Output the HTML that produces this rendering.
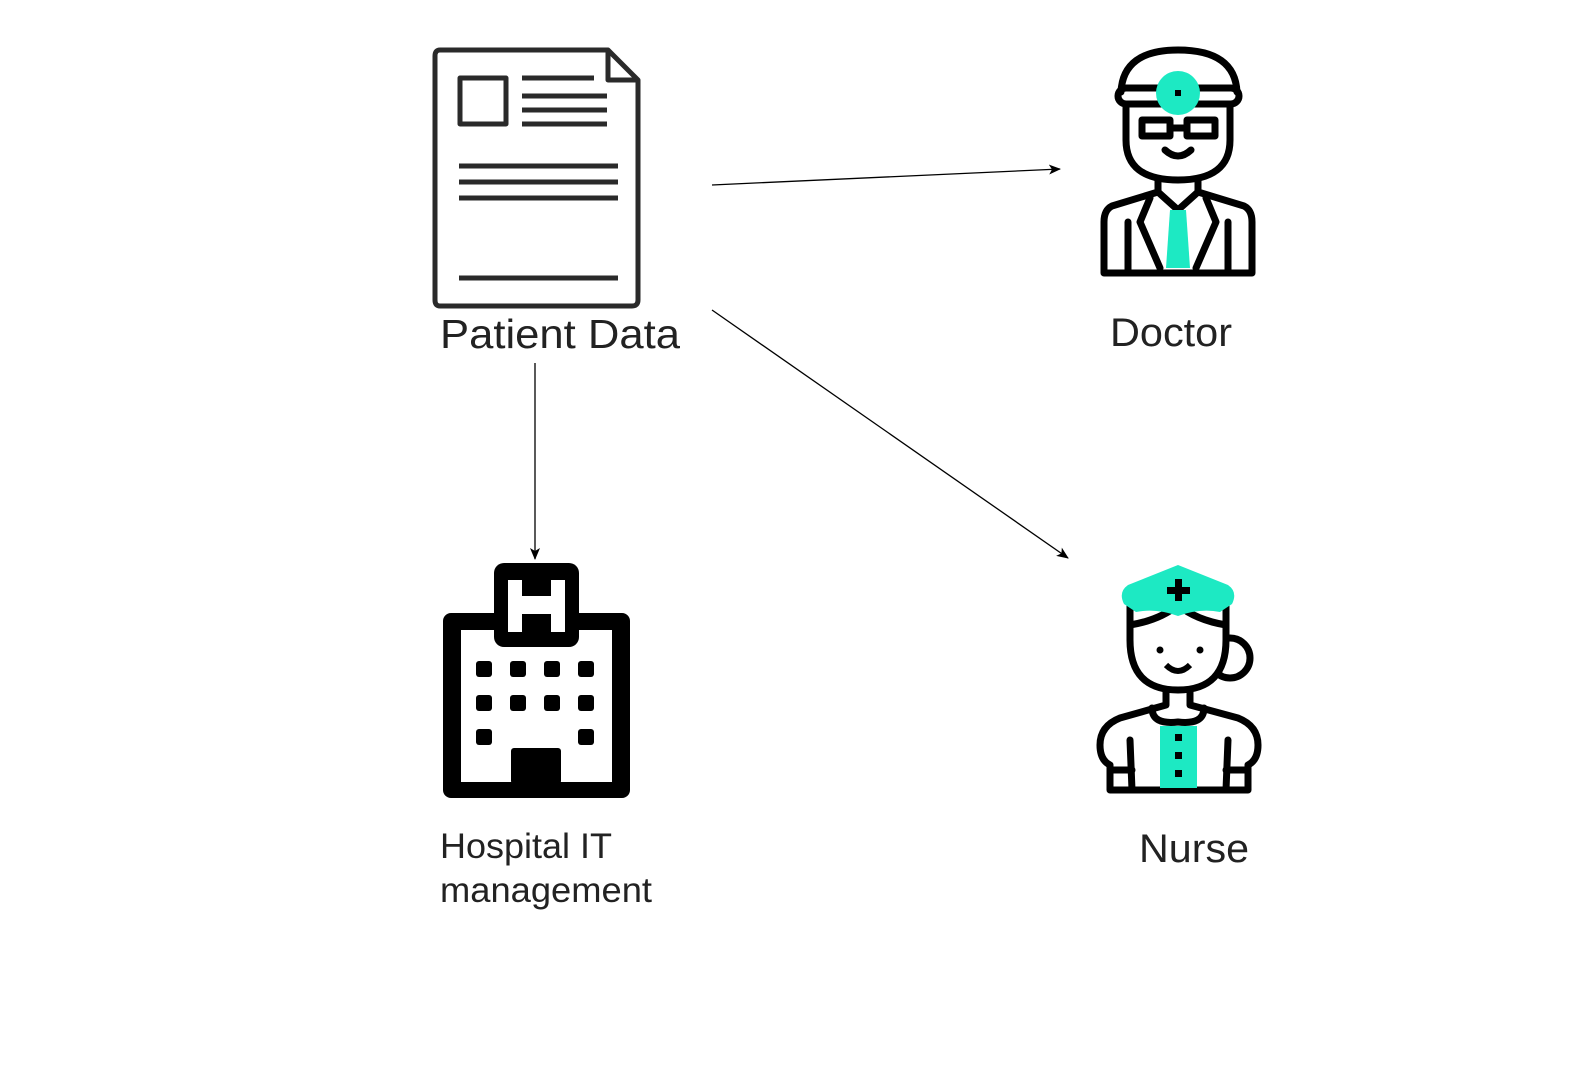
<!DOCTYPE html>
<html><head><style>
html,body{margin:0;padding:0;background:#fff;}
svg{display:block;}
text{font-family:"Liberation Sans",Arial,sans-serif;fill:#222;}
</style></head><body>
<svg width="1575" height="1088" viewBox="0 0 1575 1088" xmlns="http://www.w3.org/2000/svg">
<defs>
<marker id="ah" markerWidth="12" markerHeight="10" refX="11" refY="5" orient="auto" markerUnits="userSpaceOnUse">
<path d="M0,0 L12,5 L0,10 L3,5 Z" fill="#000"/>
</marker>
</defs>
<!-- Document -->
<g fill="none" stroke="#2a2a2a" stroke-width="5" stroke-linejoin="round">
<path d="M440,50 L608,50 L638,80 L638,300 Q638,306 632,306 L440,306 Q435,306 435,300 L435,56 Q435,50 440,50 Z"/>
<path d="M608,50 L608,80 L638,80"/>
<rect x="460" y="78" width="46" height="46"/>
<line x1="522" y1="78" x2="594" y2="78"/>
<line x1="522" y1="96" x2="607" y2="96"/>
<line x1="522" y1="110" x2="607" y2="110"/>
<line x1="522" y1="124" x2="607" y2="124"/>
<line x1="459" y1="166" x2="618" y2="166"/>
<line x1="459" y1="182" x2="618" y2="182"/>
<line x1="459" y1="198" x2="618" y2="198"/>
<line x1="459" y1="278" x2="618" y2="278"/>
</g>
<text x="440" y="348" font-size="41" textLength="240" lengthAdjust="spacingAndGlyphs">Patient Data</text>

<!-- Doctor -->
<g stroke="#000" stroke-width="7" fill="none" stroke-linejoin="round" stroke-linecap="round">
<path d="M1121,92 Q1123,50 1178,50 Q1235,50 1237,92"/>
<rect x="1118" y="88" width="121" height="16" rx="8"/>
<path d="M1126,104 L1126,140 Q1126,180 1178,180 Q1230,180 1230,140 L1230,104"/>
<rect x="1142" y="120" width="28" height="16"/>
<rect x="1187" y="120" width="28" height="16"/>
<line x1="1170" y1="128" x2="1187" y2="128"/>
<path d="M1165,150 Q1178,162 1191,150"/>
<path d="M1158,180 L1158,192 L1112,206 Q1104,210 1104,222 L1104,273 L1252,273 L1252,222 Q1252,210 1244,206 L1198,192 L1198,180"/>
<path d="M1158,192 L1178,210 L1198,192"/>
<path d="M1150,198 L1140,222 L1160,268"/>
<path d="M1206,198 L1216,222 L1196,268"/>
<line x1="1128" y1="222" x2="1128" y2="273"/>
<line x1="1228" y1="222" x2="1228" y2="273"/>
</g>
<circle cx="1178" cy="93" r="22" fill="#1de9c3"/>
<rect x="1175" y="90" width="6" height="6" fill="#000"/>
<path d="M1170,210 L1186,210 L1190,268 L1166,268 Z" fill="#1de9c3"/>
<text x="1110" y="346" font-size="40" textLength="122" lengthAdjust="spacingAndGlyphs">Doctor</text>

<!-- Nurse -->
<g stroke="#000" stroke-width="7" fill="none" stroke-linejoin="round" stroke-linecap="round">
<circle cx="1230" cy="658" r="20"/>
<path d="M1130,605 L1130,640 Q1130,690 1178,690 Q1226,690 1226,640 L1226,605" fill="#fff"/>
<path d="M1130,625 Q1160,620 1178,605 Q1196,620 1226,625"/>
<path d="M1166,690 L1166,705 L1120,718 Q1100,726 1100,745 Q1100,760 1110,765 L1110,790 L1248,790 L1248,765 Q1258,760 1258,745 Q1258,726 1238,718 L1190,705 L1190,690"/>
<path d="M1152,708 Q1152,725 1178,722 Q1204,725 1204,708"/>
<line x1="1110" y1="770" x2="1132" y2="770"/>
<line x1="1226" y1="770" x2="1248" y2="770"/>
<line x1="1130" y1="740" x2="1132" y2="790"/>
<line x1="1228" y1="740" x2="1226" y2="790"/>
</g>
<circle cx="1160" cy="650" r="3.5" fill="#000"/>
<circle cx="1200" cy="650" r="3.5" fill="#000"/>
<path d="M1166,665 Q1178,677 1190,665" stroke="#000" stroke-width="6" fill="none"/>
<path d="M1178,565 L1228,585 Q1238,592 1232,604 L1220,612 Q1200,608 1178,616 Q1156,608 1136,612 L1124,604 Q1118,592 1128,585 Z" fill="#1de9c3"/>
<rect x="1175" y="579" width="7" height="22" fill="#000"/>
<rect x="1167" y="587" width="23" height="7" fill="#000"/>
<rect x="1160" y="726" width="37" height="62" fill="#1de9c3"/>
<rect x="1175" y="734" width="7" height="7" fill="#000"/>
<rect x="1175" y="752" width="7" height="7" fill="#000"/>
<rect x="1175" y="770" width="7" height="7" fill="#000"/>
<text x="1139" y="862" font-size="40" textLength="110" lengthAdjust="spacingAndGlyphs">Nurse</text>

<!-- Hospital -->
<rect x="443" y="613" width="187" height="185" rx="8" fill="#000"/>
<rect x="461" y="630" width="151" height="152" fill="#fff"/>
<rect x="494" y="563" width="85" height="84" rx="10" fill="#000"/>
<path d="M508,580 h14 v16 h29 v-16 h14 v52 h-14 v-18 h-29 v18 h-14 Z" fill="#fff"/>
<g fill="#000">
<rect x="476" y="661" width="16" height="16" rx="3"/><rect x="510" y="661" width="16" height="16" rx="3"/><rect x="544" y="661" width="16" height="16" rx="3"/><rect x="578" y="661" width="16" height="16" rx="3"/>
<rect x="476" y="695" width="16" height="16" rx="3"/><rect x="510" y="695" width="16" height="16" rx="3"/><rect x="544" y="695" width="16" height="16" rx="3"/><rect x="578" y="695" width="16" height="16" rx="3"/>
<rect x="476" y="729" width="16" height="16" rx="3"/><rect x="578" y="729" width="16" height="16" rx="3"/>
<rect x="511" y="748" width="50" height="36" rx="3"/>
</g>
<text x="440" y="858" font-size="35" textLength="172" lengthAdjust="spacingAndGlyphs">Hospital IT</text>
<text x="440" y="902" font-size="35" textLength="212" lengthAdjust="spacingAndGlyphs">management</text>

<!-- Connectors -->
<g stroke="#000" stroke-width="1.3" fill="none" marker-end="url(#ah)">
<line x1="712" y1="185" x2="1060" y2="169"/>
<line x1="712" y1="310" x2="1068" y2="558"/>
<line x1="535" y1="363" x2="535" y2="559"/>
</g>
</svg>
</body></html>
